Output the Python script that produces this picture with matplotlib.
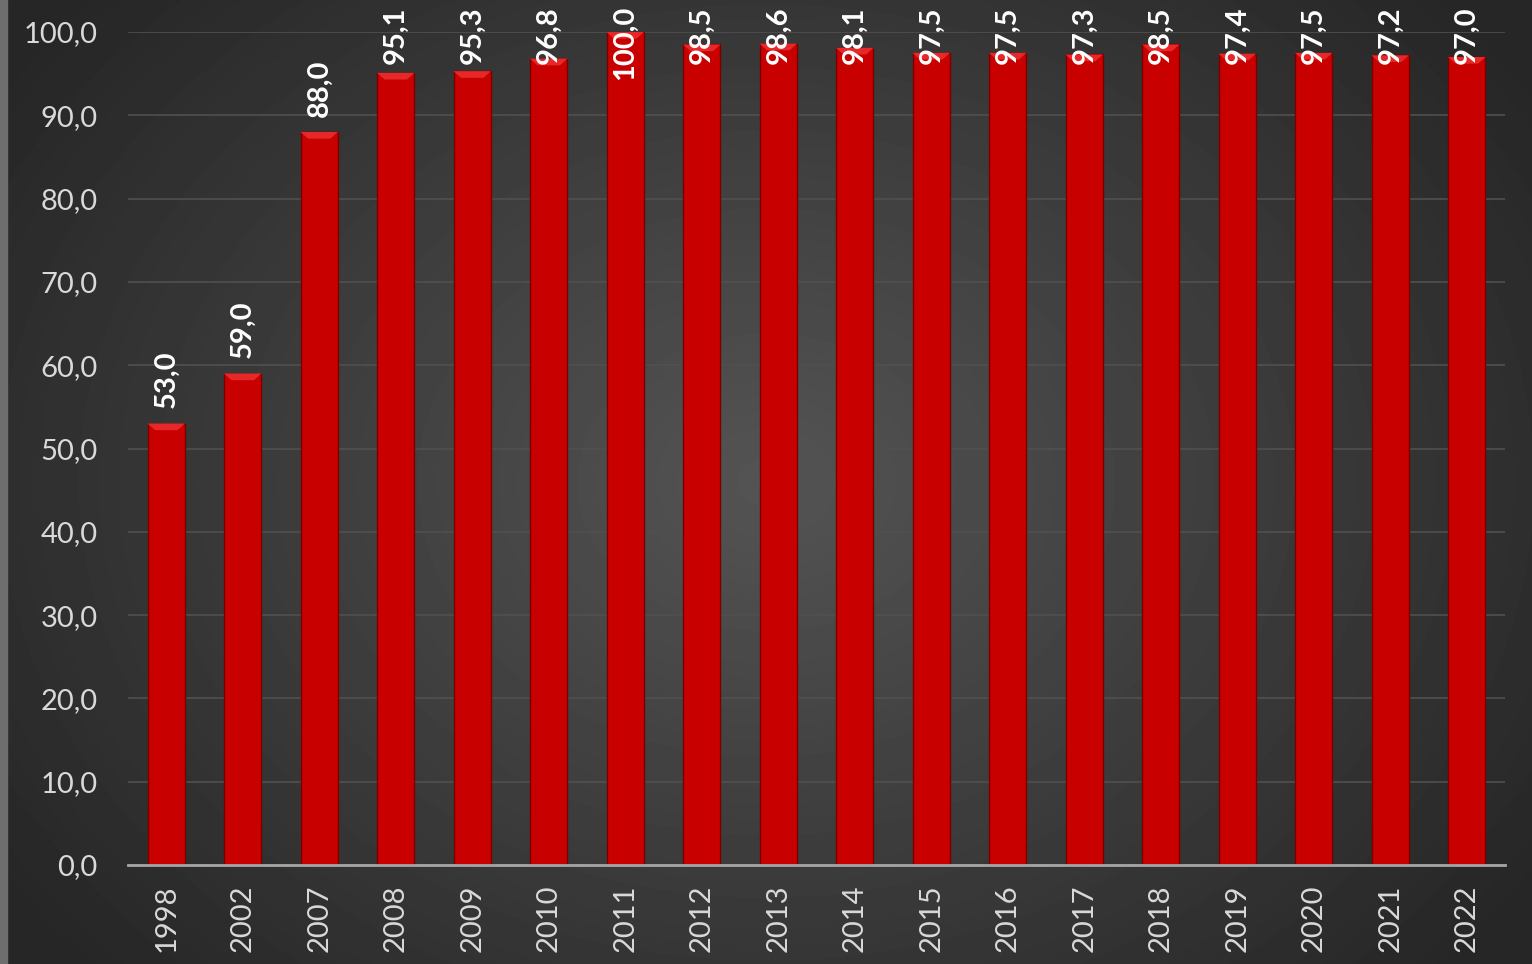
import numpy as np
import matplotlib.pyplot as plt
from matplotlib.patches import Polygon

years = ["1998", "2002", "2007", "2008", "2009", "2010", "2011", "2012", "2013",
         "2014", "2015", "2016", "2017", "2018", "2019", "2020", "2021", "2022"]
values = [53.0, 59.0, 88.0, 95.1, 95.3, 96.8, 100.0, 98.5, 98.6,
          98.1, 97.5, 97.5, 97.3, 98.5, 97.4, 97.5, 97.2, 97.0]

plt.rcParams["font.family"] = ["Lato", "DejaVu Sans"]

W, H = 1532, 964
fig = plt.figure(figsize=(W / 100, H / 100), dpi=100)

# radial gradient background
bg = fig.add_axes([0, 0, 1, 1])
yy, xx = np.mgrid[0:H, 0:W]
r = np.sqrt(((xx - W * 0.5) / (W * 0.6)) ** 2 + ((yy - H * 0.5) / (H * 0.75)) ** 2)
shade = np.clip(0.33 - 0.18 * r, 0.15, 0.33)
bg.imshow(shade, cmap="gray", vmin=0, vmax=1, aspect="auto", extent=[0, W, H, 0])
bg.axvspan(0, 7, color="#6e6e6e")
bg.set_xlim(0, W)
bg.set_ylim(H, 0)
bg.axis("off")

ax = fig.add_axes([128 / W, 1 - 865 / H, (1505 - 128) / W, (865 - 32) / H])
ax.patch.set_alpha(0)
x = np.arange(len(years))
bars = ax.bar(x, values, width=0.49, color="#c80000", edgecolor="#7a0000",
              linewidth=1.0, zorder=3)

# little bevel on top of each bar
for b in bars:
    x0, w, h = b.get_x(), b.get_width(), b.get_height()
    cap = 0.8
    ax.add_patch(Polygon([(x0, h), (x0 + w, h), (x0 + w * 0.8, h - cap), (x0 + w * 0.2, h - cap)],
                         closed=True, facecolor="#e82828", edgecolor="none", zorder=4))

ax.set_xlim(-0.5, len(years) - 0.5)
ax.set_ylim(0, 100)
ax.set_yticks(np.arange(0, 101, 10))
ax.set_yticklabels([f"{v:.1f}".replace(".", ",") for v in np.arange(0, 101, 10)])
ax.set_xticks(x)
ax.set_xticklabels(years, rotation=90)
ax.tick_params(axis="y", length=0, pad=22, labelsize=21, labelcolor="#d9d9d9")
ax.tick_params(axis="x", length=0, pad=14, labelsize=21, labelcolor="#d9d9d9")
ax.grid(axis="y", color="#505050", linewidth=1.2, zorder=0)
for s in ["top", "right", "left"]:
    ax.spines[s].set_visible(False)
ax.spines["bottom"].set_color("#a6a6a6")
ax.spines["bottom"].set_linewidth(2)
ax.spines["bottom"].set_zorder(5)

texts = []
for xi, v in zip(x, values):
    t = ax.annotate(f"{v:.1f}".replace(".", ","), (xi, v), xytext=(0, 11),
                    textcoords="offset points", rotation=90, ha="center", va="bottom",
                    color="white", fontsize=21, fontweight="bold", zorder=6,
                    annotation_clip=False)
    texts.append(t)

# keep labels inside the figure, like Excel does
fig.canvas.draw()
rend = fig.canvas.get_renderer()
for t in texts:
    bb = t.get_window_extent(rend)
    limit = H - 6
    if bb.y1 > limit:
        dy = (bb.y1 - limit) * 72 / 100
        ox, oy = t.xyann
        t.xyann = (ox, oy - dy)

fig.savefig("out.png", dpi=100)
